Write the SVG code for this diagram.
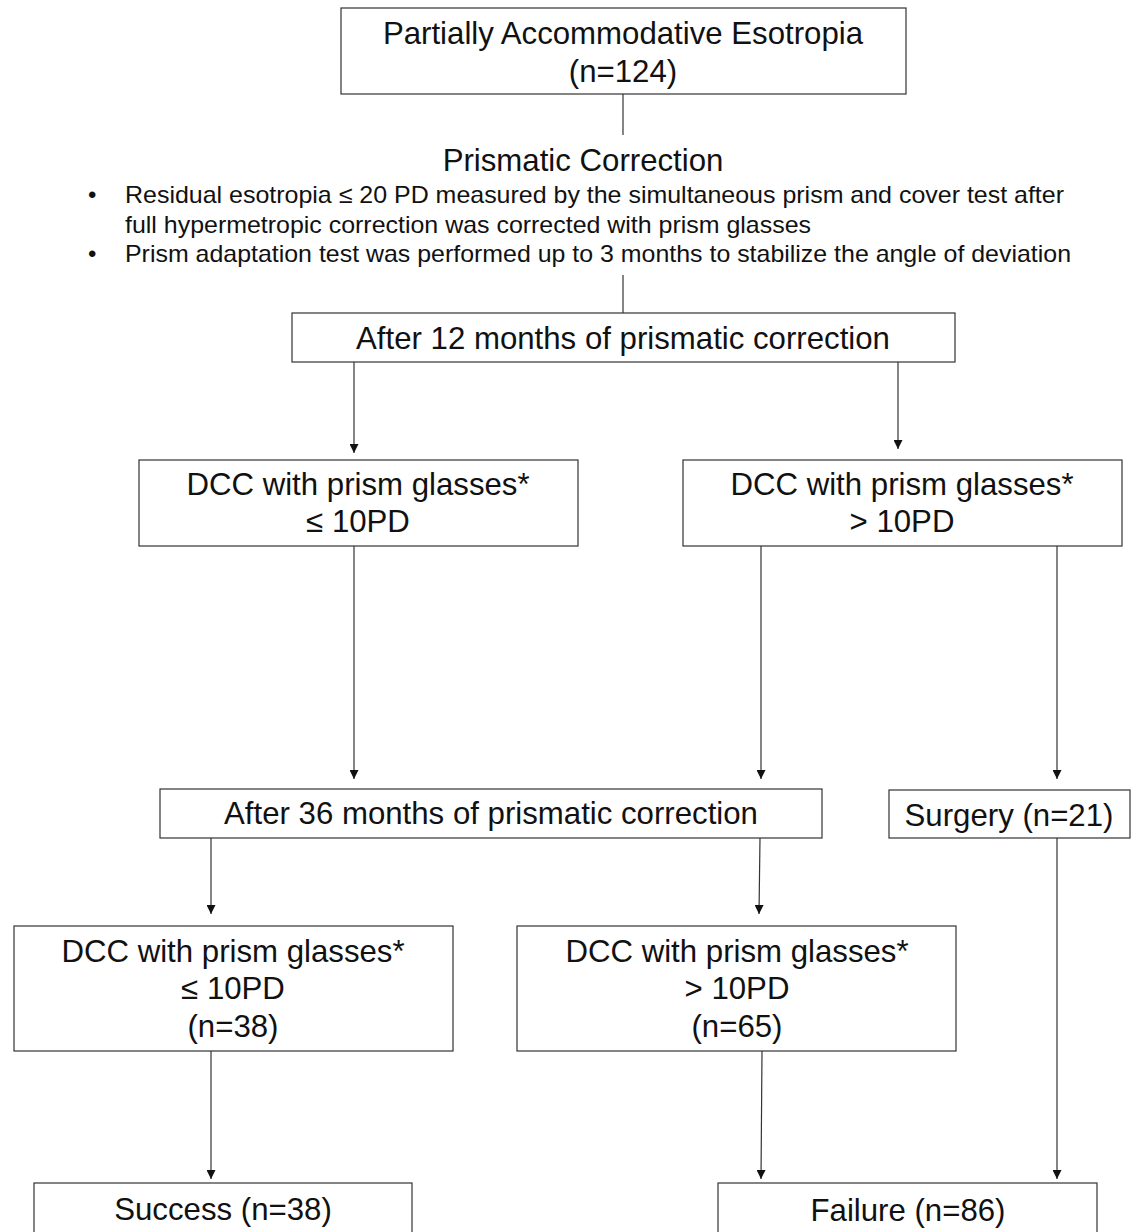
<svg xmlns="http://www.w3.org/2000/svg" width="1136" height="1232" viewBox="0 0 1136 1232">
<defs>
<style>
.box{fill:#fff;stroke:#333;stroke-width:1.2}
.t{font-family:"Liberation Sans",Arial,sans-serif;font-size:31.2px;fill:#111;text-anchor:middle}
.b{font-family:"Liberation Sans",Arial,sans-serif;font-size:24px;fill:#111}
.c{stroke:#333;stroke-width:1.2;fill:none}
</style>
<marker id="ah" viewBox="0 0 10 10" refX="10" refY="5" markerWidth="9" markerHeight="9" markerUnits="userSpaceOnUse" orient="auto">
<path d="M0,0 L10,5 L0,10 Z" fill="#111"/>
</marker>
</defs>
<rect width="1136" height="1232" fill="#fff"/>
<g id="connectors">
<line class="c" x1="623" y1="94" x2="623" y2="135"/>
<line class="c" x1="623" y1="275" x2="623" y2="313"/>
<line class="c" x1="354" y1="362" x2="354" y2="453" marker-end="url(#ah)"/>
<line class="c" x1="898" y1="362" x2="898" y2="449" marker-end="url(#ah)"/>
<line class="c" x1="354" y1="546" x2="354" y2="779" marker-end="url(#ah)"/>
<line class="c" x1="761" y1="546" x2="761" y2="779" marker-end="url(#ah)"/>
<line class="c" x1="1057" y1="546" x2="1057" y2="779" marker-end="url(#ah)"/>
<line class="c" x1="211" y1="838" x2="211" y2="914" marker-end="url(#ah)"/>
<line class="c" x1="760" y1="838" x2="759" y2="914" marker-end="url(#ah)"/>
<line class="c" x1="211" y1="1051" x2="211" y2="1179" marker-end="url(#ah)"/>
<line class="c" x1="762" y1="1051" x2="761" y2="1179" marker-end="url(#ah)"/>
<line class="c" x1="1057" y1="838" x2="1057" y2="1179" marker-end="url(#ah)"/>
</g>
<g id="start">
<rect class="box" x="341" y="8" width="565" height="86"/>
<text class="t" x="623" y="44">Partially Accommodative Esotropia</text>
<text class="t" x="623" y="82">(n=124)</text>
</g>
<g id="prismatic">
<text class="t" x="583" y="171">Prismatic Correction</text>
<text class="b" x="88" y="203">•</text>
<text class="b" x="125" y="203" textLength="939" lengthAdjust="spacingAndGlyphs">Residual esotropia ≤ 20 PD measured by the simultaneous prism and cover test after</text>
<text class="b" x="125" y="233" textLength="686" lengthAdjust="spacingAndGlyphs">full hypermetropic correction was corrected with prism glasses</text>
<text class="b" x="88" y="262">•</text>
<text class="b" x="125" y="262" textLength="946" lengthAdjust="spacingAndGlyphs">Prism adaptation test was performed up to 3 months to stabilize the angle of deviation</text>
</g>
<g id="after12">
<rect class="box" x="292" y="313" width="663" height="49"/>
<text class="t" x="623" y="349">After 12 months of prismatic correction</text>
</g>
<g id="dcc12low">
<rect class="box" x="139" y="460" width="439" height="86"/>
<text class="t" x="358" y="495">DCC with prism glasses*</text>
<text class="t" x="358" y="532">≤ 10PD</text>
</g>
<g id="dcc12high">
<rect class="box" x="683" y="460" width="439" height="86"/>
<text class="t" x="902" y="495">DCC with prism glasses*</text>
<text class="t" x="902" y="532">&gt; 10PD</text>
</g>
<g id="after36">
<rect class="box" x="160" y="789" width="662" height="49"/>
<text class="t" x="491" y="824">After 36 months of prismatic correction</text>
</g>
<g id="surgery">
<rect class="box" x="889" y="790" width="241" height="48"/>
<text class="t" x="1009" y="826">Surgery (n=21)</text>
</g>
<g id="dcc36low">
<rect class="box" x="14" y="926" width="439" height="125"/>
<text class="t" x="233" y="962">DCC with prism glasses*</text>
<text class="t" x="233" y="999">≤ 10PD</text>
<text class="t" x="233" y="1037">(n=38)</text>
</g>
<g id="dcc36high">
<rect class="box" x="517" y="926" width="439" height="125"/>
<text class="t" x="737" y="962">DCC with prism glasses*</text>
<text class="t" x="737" y="999">&gt; 10PD</text>
<text class="t" x="737" y="1037">(n=65)</text>
</g>
<g id="success">
<rect class="box" x="34" y="1183" width="378" height="70"/>
<text class="t" x="223" y="1220">Success (n=38)</text>
</g>
<g id="failure">
<rect class="box" x="718" y="1183" width="379" height="70"/>
<text class="t" x="908" y="1221">Failure (n=86)</text>
</g>
</svg>
